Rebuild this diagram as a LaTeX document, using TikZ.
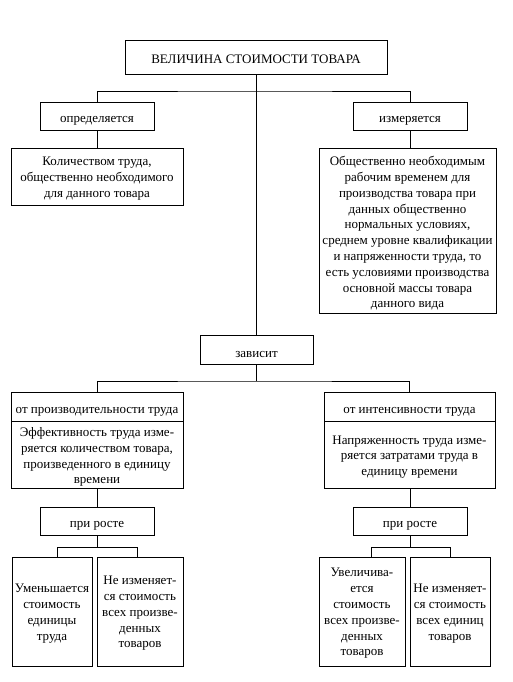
\documentclass[tikz,border=0pt]{standalone}
\usepackage{fontspec}
\setmainfont{Liberation Serif}
\newcommand{\bx}[7][-2pt]{%
  \node[frame,minimum width=#5,minimum height=#6] (#2) at (#3,#4) {};
  \node[txt] (#2-t) at ([yshift=#1]#2.center) {#7};}
\begin{document}
\begin{tikzpicture}[x=1pt,y=-1pt,
  frame/.style={draw,line width=0.8pt,inner sep=0pt},
  txt/.style={inner sep=0pt,align=center,font=\fontsize{13}{15.8}\selectfont},
  conn/.style={line width=0.8pt}]
\useasboundingbox[fill=white] (0,0) rectangle (512,682);
\bx{top}{256}{57}{262}{34}{ВЕЛИЧИНА СТОИМОСТИ ТОВАРА}
\bx[-5pt]{opr}{97}{116}{114}{28}{определяется}
\bx[-5pt]{izm}{410}{116}{114}{28}{измеряется}
\bx{kol}{97}{176.5}{172}{57}{Количеством труда,\\общественно необходимого\\для данного товара}
\bx[-3pt]{obsh}{407.5}{230.5}{177}{165}{Общественно необходимым\\рабочим временем для\\производства товара при\\данных общественно\\нормальных условиях,\\среднем уровне квалификации\\и напряженности труда, то\\есть условиями производства\\основной массы товара\\данного вида}
\bx[-5pt]{zav}{256.5}{349.5}{113}{29}{зависит}
\bx[-5pt]{prod}{97}{407}{172}{29}{от производительности труда}
\bx{prodb}{97}{455}{172}{67}{Эффективность труда изме-\\ряется количеством товара,\\произведенного в единицу\\времени}
\bx[-5pt]{int}{409.5}{407}{171}{29}{от интенсивности труда}
\bx{intb}{409.5}{455}{171}{67}{Напряженность труда изме-\\ряется затратами труда в\\единицу времени}
\bx[-5pt]{pr1}{97}{521}{114}{28}{при росте}
\bx[-5pt]{pr2}{410}{521}{114}{28}{при росте}
\bx{b1}{52}{611.5}{80}{109}{Уменьшается\\стоимость\\единицы\\труда}
\bx{b2}{140}{611.5}{86}{109}{Не изменяет-\\ся стоимость\\всех произве-\\денных\\товаров}
\bx{b3}{362}{611.5}{86}{109}{Увеличива-\\ется\\стоимость\\всех произве-\\денных\\товаров}
\bx{b4}{450}{611.5}{80}{109}{Не изменяет-\\ся стоимость\\всех единиц\\товаров}
\coordinate (j1) at (256,91);
\coordinate (j2) at (256,381);
\coordinate (j3) at (97,547);
\coordinate (j4) at (410,547);
\coordinate (l1) at (57,547);
\coordinate (l2) at (137,547);
\coordinate (r1) at (371,547);
\coordinate (r2) at (450,547);
\draw[conn] (top.south) -- (top.south |- zav.north);
\draw[conn] (opr.north) |- (j1) -| (izm.north);
\draw[conn] (opr.south) -- (kol.north);
\draw[conn] (izm.south) -- (izm.south |- obsh.north);
\draw[conn] (zav.south) -- (zav.south |- j2);
\draw[conn] (prod.north) |- (j2) -| (int.north);
\draw[conn] (prodb.south) -- (pr1.north);
\draw[conn] (pr2.north) -- (pr2.north |- intb.south);
\draw[conn] (pr1.south) -- (j3);
\draw[conn] (pr2.south) -- (j4);
\draw[conn] (l1 |- b1.north) -- (l1) -- (l2) -- (l2 |- b2.north);
\draw[conn] (r1 |- b3.north) -- (r1) -- (r2) -- (r2 |- b4.north);
\end{tikzpicture}
\end{document}
